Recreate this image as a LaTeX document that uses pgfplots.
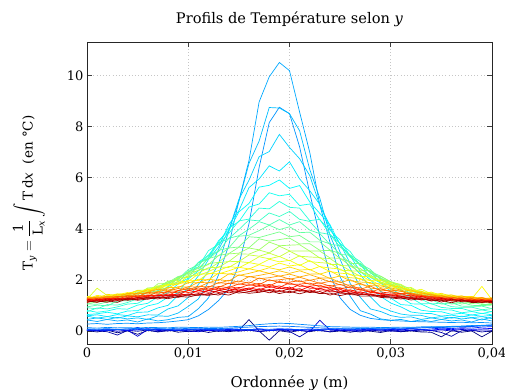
\documentclass[border=0pt]{standalone}
\usepackage{amsmath}
\usepackage{exscale}
\usepackage{fontspec}
\setmainfont{DejaVu Serif}
\usepackage{pgfplots}
\usepackage{pgfplotstable}
\pgfplotsset{compat=1.18}
\newcommand{\fs}{\fontsize{13bp}{16bp}\selectfont}
\newcommand{\fl}{\fontsize{14.8bp}{17bp}\selectfont}
\newcommand{\ft}{\fontsize{14.6bp}{17bp}\selectfont}
\newcommand{\fy}{\fontsize{13.5bp}{16bp}\selectfont}
\definecolor{n1}{rgb}{0,0,0.5}
\definecolor{n2}{rgb}{0,0,0.66}
\definecolor{n3}{rgb}{0,0,0.82}
\definecolor{n4}{rgb}{0,0,0.98}
\definecolor{n5}{rgb}{0,0.14,1}
\definecolor{n6}{rgb}{0,0.3,1}
\definecolor{n7}{rgb}{0,0.46,1}
\definecolor{cB}{rgb}{0,0.54,1}
\definecolor{cN}{rgb}{0,0.58,1}
\definecolor{F1}{rgb}{0,0.66,1}
\definecolor{F2}{rgb}{0,0.74,1}
\definecolor{F3}{rgb}{0,0.82,1}
\definecolor{F4}{rgb}{0,0.9,1}
\definecolor{F5}{rgb}{0,0.98,1}
\definecolor{F6}{rgb}{0.06,1,0.94}
\definecolor{F7}{rgb}{0.14,1,0.86}
\definecolor{F8}{rgb}{0.22,1,0.78}
\definecolor{F9}{rgb}{0.3,1,0.7}
\definecolor{F10}{rgb}{0.38,1,0.62}
\definecolor{F11}{rgb}{0.46,1,0.54}
\definecolor{F12}{rgb}{0.54,1,0.46}
\definecolor{F13}{rgb}{0.62,1,0.38}
\definecolor{F14}{rgb}{0.7,1,0.3}
\definecolor{F15}{rgb}{0.78,1,0.22}
\definecolor{F16}{rgb}{0.86,1,0.14}
\definecolor{F17}{rgb}{0.94,1,0.06}
\definecolor{F18}{rgb}{1,0.98,0}
\definecolor{F19}{rgb}{1,0.88,0}
\definecolor{F20}{rgb}{1,0.78,0}
\definecolor{F21}{rgb}{1,0.68,0}
\definecolor{F22}{rgb}{1,0.58,0}
\definecolor{F23}{rgb}{1,0.48,0}
\definecolor{F24}{rgb}{1,0.38,0}
\definecolor{F25}{rgb}{1,0.28,0}
\definecolor{F26}{rgb}{1,0.18,0}
\definecolor{F27}{rgb}{1,0.08,0}
\definecolor{F28}{rgb}{0.98,0,0}
\definecolor{F29}{rgb}{0.88,0,0}
\definecolor{F30}{rgb}{0.78,0,0}
\definecolor{F31}{rgb}{0.68,0,0}
\definecolor{F32}{rgb}{0.58,0,0}

\pgfplotstableread{
x n1 n2 n3 n4 n5 n6 n7 B N F1 F2 F3 F4 F5 F6 F7 F8 F9 F10 F11 F12 F13 F14 F15 F16 F17 F18 F19 F20 F21 F22 F23 F24 F25 F26 F27 F28 F29 F30 F31 F32
0.000 0.02 0.04 0.05 0.06 0.03 0.07 0.09 0.14 0.28 .44 .46 .59 .60 .65 .81 .76 .92 .95 1.07 1.05 1.15 1.14 1.25 1.25 1.25 1.36 1.25 1.34 1.28 1.33 1.23 1.29 1.21 1.27 1.22 1.19 1.25 1.12 1.19 1.14 1.18
0.001 -0.03 0.01 0.02 0.03 0.05 0.05 0.08 0.12 0.30 .38 .52 .51 .64 .68 .74 .91 .87 1.02 1.05 1.16 1.13 1.24 1.21 1.33 1.68 1.31 1.40 1.29 1.35 1.30 1.34 1.25 1.29 1.21 1.27 1.22 1.19 1.25 1.13 1.19 1.14
0.002 0.04 -0.02 0.06 0.05 0.02 0.08 0.10 0.15 0.27 .46 .46 .57 .57 .74 .79 .87 1.04 .99 1.14 1.16 1.27 1.23 1.31 1.30 1.39 1.37 1.35 1.44 1.30 1.37 1.30 1.35 1.25 1.29 1.21 1.29 1.23 1.19 1.26 1.13 1.19
0.003 -0.06 -0.15 0.00 0.08 0.06 0.06 0.07 0.13 0.30 .40 .54 .51 .65 .68 .88 .95 1.02 1.18 1.13 1.26 1.27 1.38 1.31 1.41 1.36 1.46 1.42 1.40 1.45 1.32 1.37 1.32 1.36 1.26 1.30 1.23 1.29 1.23 1.20 1.26 1.13
0.004 0.01 0.03 0.04 0.02 0.04 0.09 0.09 0.14 0.31 .44 .48 .60 .61 .79 .86 1.06 1.12 1.19 1.33 1.27 1.39 1.40 1.46 1.42 1.48 1.44 1.51 1.47 1.42 1.48 1.33 1.40 1.33 1.37 1.27 1.31 1.23 1.29 1.24 1.21 1.27
0.005 -0.12 0.00 -0.20 0.06 0.15 0.05 0.11 0.12 0.29 .36 .52 .56 .74 .80 1.02 1.09 1.27 1.33 1.36 1.50 1.42 1.54 1.48 1.60 1.47 1.58 1.47 1.59 1.49 1.45 1.49 1.35 1.41 1.34 1.38 1.28 1.32 1.24 1.31 1.25 1.21
0.006 0.03 0.05 0.07 0.10 0.03 0.07 0.08 0.15 0.32 .48 .46 .64 .75 .99 1.09 1.30 1.34 1.51 1.52 1.54 1.69 1.53 1.64 1.61 1.68 1.57 1.63 1.53 1.61 1.52 1.46 1.52 1.37 1.42 1.35 1.40 1.29 1.33 1.25 1.31 1.26
0.007 -0.02 -0.03 0.03 0.04 0.07 0.10 0.10 0.14 0.33 .40 .60 .63 .91 1.08 1.34 1.42 1.59 1.58 1.75 1.72 1.71 1.85 1.64 1.77 1.69 1.77 1.62 1.69 1.55 1.64 1.53 1.48 1.53 1.38 1.43 1.37 1.40 1.30 1.34 1.26 1.32
0.008 0.05 0.02 0.01 0.07 0.05 0.06 0.09 0.13 0.36 .45 .58 .87 1.01 1.33 1.50 1.75 1.72 1.88 1.82 1.95 1.90 1.87 1.95 1.77 1.85 1.78 1.83 1.68 1.71 1.58 1.65 1.56 1.49 1.55 1.39 1.45 1.38 1.41 1.31 1.35 1.27
0.009 -0.04 0.04 0.05 0.03 0.02 0.08 0.12 0.16 0.40 .54 .71 .99 1.40 1.50 1.85 1.93 2.09 2.02 2.12 2.03 2.14 2.06 1.98 2.08 1.85 1.95 1.83 1.89 1.70 1.74 1.59 1.67 1.57 1.50 1.59 1.41 1.46 1.38 1.42 1.32 1.36
0.010 0.00 -0.02 0.02 0.06 0.06 0.05 0.10 0.15 0.45 .57 .97 1.32 1.66 2.04 2.07 2.31 2.30 2.41 2.27 2.34 2.21 2.30 2.17 2.10 2.16 1.94 1.99 1.88 1.90 1.72 1.74 1.61 1.68 1.58 1.51 1.60 1.41 1.46 1.40 1.43 1.33
0.011 0.03 0.01 -0.02 0.08 0.04 0.09 0.09 0.14 0.60 .88 1.26 1.83 2.16 2.36 2.69 2.52 2.68 2.59 2.67 2.45 2.50 2.36 2.39 2.28 2.17 2.24 1.98 2.03 1.89 1.91 1.72 1.76 1.61 1.69 1.58 1.52 1.60 1.41 1.47 1.40 1.43
0.012 -0.05 0.06 0.04 0.02 0.08 0.07 0.11 0.16 0.85 1.30 1.92 2.33 2.80 2.90 2.97 3.15 2.86 2.97 2.81 2.84 2.60 2.64 2.43 2.48 2.33 2.23 2.26 2.00 2.03 1.89 1.90 1.72 1.75 1.61 1.69 1.59 1.52 1.60 1.42 1.47 1.40
0.013 0.02 -0.01 0.06 0.05 0.03 0.06 0.10 0.15 1.20 2.21 2.65 3.20 3.30 3.54 3.48 3.39 3.45 3.11 3.16 2.95 2.96 2.69 2.68 2.50 2.51 2.37 2.24 2.27 1.98 2.02 1.87 1.90 1.71 1.75 1.61 1.68 1.58 1.51 1.60 1.41 1.47
0.014 -0.02 0.03 0.01 0.07 0.05 0.10 0.12 0.17 1.65 3.35 3.91 3.94 4.16 3.92 4.03 3.82 3.62 3.63 3.25 3.25 3.03 3.02 2.72 2.73 2.49 2.53 2.36 2.23 2.24 1.96 1.99 1.86 1.88 1.70 1.74 1.60 1.67 1.57 1.50 1.59 1.41
0.015 0.04 0.00 0.03 0.04 0.07 0.08 0.14 0.19 2.60 5.10 5.07 5.15 4.71 4.66 4.28 4.31 3.97 3.73 3.71 3.29 3.28 3.05 3.02 2.72 2.72 2.48 2.50 2.32 2.18 2.20 1.92 1.96 1.83 1.85 1.68 1.71 1.58 1.65 1.56 1.49 1.55
0.016 0.45 0.04 0.05 0.06 0.04 0.06 0.16 0.22 4.20 6.67 6.56 5.90 5.61 4.99 4.85 4.38 4.35 3.99 3.75 3.69 3.26 3.25 3.01 2.98 2.68 2.68 2.43 2.44 2.26 2.12 2.14 1.87 1.92 1.79 1.82 1.65 1.69 1.55 1.64 1.54 1.48
0.017 0.01 -0.02 0.00 0.09 0.06 0.09 0.18 0.26 6.40 8.96 7.43 6.82 5.95 5.63 4.97 4.81 4.31 4.28 3.93 3.66 3.61 3.18 3.17 2.93 2.91 2.61 2.60 2.36 2.36 2.18 2.05 2.08 1.82 1.87 1.75 1.79 1.62 1.66 1.53 1.61 1.52
0.018 -0.35 0.02 0.04 0.03 0.02 0.07 0.19 0.29 8.15 9.94 8.74 7.02 6.46 5.70 5.41 4.78 4.62 4.15 4.14 3.77 3.52 3.48 3.06 3.05 2.83 2.81 2.51 2.48 2.26 2.26 2.09 1.97 2.01 1.77 1.83 1.71 1.75 1.58 1.63 1.50 1.59
0.019 0.02 0.05 0.07 0.06 0.05 0.10 0.20 0.31 8.75 10.50 8.72 7.69 6.26 5.91 5.29 5.07 4.48 4.36 3.97 3.88 3.58 3.34 3.32 2.91 2.92 2.71 2.66 2.40 2.36 2.15 2.16 2.01 1.90 1.95 1.71 1.77 1.66 1.70 1.54 1.59 1.47
0.020 -0.04 -0.01 0.02 0.08 0.08 0.08 0.19 0.30 8.50 10.18 8.50 7.18 6.62 5.58 5.35 4.84 4.68 4.15 4.08 3.69 3.64 3.36 3.14 3.13 2.75 2.77 2.55 2.51 2.26 2.23 2.03 2.06 1.92 1.83 1.89 1.65 1.72 1.61 1.66 1.50 1.56
0.021 0.03 -0.22 0.03 0.05 0.04 0.06 0.17 0.27 7.20 8.56 7.83 6.74 5.95 5.69 4.91 4.81 4.37 4.28 3.85 3.74 3.41 3.38 3.13 2.93 2.95 2.57 2.60 2.39 2.36 2.12 2.11 1.93 1.97 1.84 1.75 1.82 1.59 1.66 1.56 1.61 1.46
0.022 -0.02 0.03 -0.01 0.04 0.06 0.09 0.15 0.24 5.40 6.99 6.32 6.08 5.49 5.05 4.97 4.32 4.29 3.95 3.87 3.49 3.42 3.13 3.13 2.90 2.72 2.76 2.39 2.41 2.23 2.21 1.99 1.99 1.83 1.88 1.76 1.68 1.75 1.52 1.61 1.51 1.57
0.023 0.05 0.02 0.43 0.07 0.03 0.07 0.13 0.21 3.70 4.92 5.19 4.91 4.95 4.60 4.34 4.37 3.85 3.81 3.55 3.49 3.16 3.13 2.86 2.88 2.68 2.52 2.53 2.23 2.24 2.08 2.07 1.87 1.89 1.73 1.80 1.68 1.61 1.68 1.47 1.55 1.47
0.024 -0.03 -0.02 0.04 0.10 0.07 0.08 0.12 0.18 2.20 3.47 3.75 4.12 3.98 4.16 3.95 3.78 3.78 3.39 3.41 3.17 3.15 2.86 2.84 2.61 2.65 2.47 2.33 2.35 2.06 2.08 1.93 1.95 1.76 1.79 1.65 1.72 1.61 1.54 1.62 1.41 1.49
0.025 0.01 0.04 0.02 0.05 0.05 0.10 0.11 0.17 1.30 2.12 2.81 3.08 3.42 3.38 3.56 3.43 3.29 3.35 3.00 3.03 2.84 2.85 2.57 2.60 2.39 2.43 2.27 2.15 2.16 1.90 1.93 1.81 1.83 1.66 1.70 1.56 1.64 1.54 1.48 1.53 1.39
0.026 -0.04 0.01 0.06 0.03 0.09 0.07 0.12 0.16 0.85 1.36 1.86 2.45 2.64 2.94 2.93 3.11 2.98 2.89 2.97 2.64 2.72 2.56 2.55 2.36 2.36 2.20 2.23 2.09 1.97 2.01 1.75 1.81 1.69 1.73 1.57 1.62 1.49 1.57 1.48 1.43 1.48
0.027 0.02 -0.03 0.01 0.06 0.04 0.09 0.10 0.15 0.62 .80 1.32 1.74 2.22 2.33 2.61 2.56 2.72 2.63 2.55 2.65 2.38 2.45 2.30 2.34 2.14 2.18 2.01 2.06 1.92 1.82 1.87 1.64 1.70 1.60 1.64 1.49 1.54 1.43 1.49 1.42 1.37
0.028 0.00 0.05 0.03 0.08 0.06 0.11 0.12 0.16 0.50 .67 .87 1.34 1.66 2.01 2.10 2.31 2.27 2.41 2.33 2.28 2.36 2.15 2.20 2.10 2.13 1.97 1.99 1.85 1.90 1.78 1.68 1.76 1.53 1.61 1.51 1.57 1.43 1.46 1.38 1.43 1.37
0.029 -0.05 0.00 0.05 0.04 0.08 0.08 0.11 0.14 0.45 .48 .77 .95 1.36 1.56 1.88 1.90 2.06 2.02 2.15 2.09 2.05 2.15 1.92 2.02 1.91 1.98 1.80 1.86 1.70 1.77 1.65 1.58 1.66 1.44 1.53 1.45 1.48 1.36 1.40 1.32 1.38
0.030 0.03 0.02 0.00 0.07 0.05 0.10 0.13 0.15 0.42 .43 .61 .79 1.10 1.29 1.56 1.66 1.83 1.81 1.92 1.86 1.94 1.93 1.82 1.91 1.79 1.86 1.74 1.78 1.65 1.69 1.56 1.60 1.54 1.45 1.49 1.41 1.42 1.34 1.38 1.30 1.33
0.031 -0.02 -0.02 0.04 0.05 0.07 0.12 0.12 0.16 0.40 .46 .54 .67 .95 1.04 1.32 1.44 1.62 1.58 1.72 1.66 1.80 1.76 1.70 1.83 1.63 1.74 1.65 1.72 1.55 1.61 1.47 1.57 1.47 1.42 1.47 1.33 1.38 1.32 1.36 1.26 1.30
0.032 0.01 0.04 0.02 0.09 0.10 0.10 0.14 0.15 0.38 .38 .56 .62 .75 1.01 1.07 1.30 1.36 1.51 1.46 1.60 1.54 1.68 1.61 1.61 1.71 1.54 1.63 1.56 1.61 1.46 1.50 1.42 1.47 1.40 1.35 1.42 1.27 1.33 1.27 1.31 1.22
0.033 -0.03 0.01 0.06 0.06 0.06 0.13 0.13 0.17 0.37 .44 .46 .62 .70 .82 1.06 1.07 1.25 1.31 1.42 1.40 1.50 1.45 1.57 1.54 1.50 1.64 1.44 1.56 1.47 1.51 1.39 1.43 1.35 1.40 1.34 1.30 1.36 1.22 1.29 1.23 1.27
0.034 -0.04 0.03 0.03 0.04 0.09 0.15 0.15 0.18 0.36 .38 .52 .52 .69 .77 .88 1.08 1.06 1.23 1.25 1.37 1.33 1.44 1.38 1.50 1.46 1.46 1.53 1.41 1.46 1.40 1.43 1.34 1.37 1.29 1.35 1.29 1.25 1.31 1.18 1.25 1.19
0.035 -0.22 -0.05 0.05 0.08 0.12 0.14 0.17 0.17 0.35 .46 .46 .57 .59 .76 .84 .93 1.10 1.06 1.21 1.22 1.33 1.30 1.37 1.35 1.44 1.42 1.40 1.48 1.33 1.40 1.33 1.38 1.28 1.32 1.24 1.31 1.25 1.21 1.28 1.14 1.21
0.036 0.02 -0.20 0.01 0.06 0.10 0.17 0.16 0.19 0.34 .40 .54 .51 .63 .66 .83 .89 .96 1.11 1.06 1.20 1.21 1.31 1.25 1.36 1.31 1.41 1.37 1.36 1.42 1.29 1.34 1.29 1.33 1.23 1.27 1.21 1.27 1.21 1.18 1.25 1.11
0.037 -0.04 0.02 0.07 0.10 0.14 0.19 0.19 0.20 0.35 .44 .48 .59 .56 .70 .72 .89 .93 .98 1.13 1.06 1.19 1.20 1.29 1.25 1.33 1.29 1.38 1.35 1.31 1.38 1.24 1.31 1.25 1.29 1.19 1.24 1.17 1.23 1.19 1.15 1.22
0.038 0.01 0.04 0.03 0.07 0.12 0.18 0.21 0.22 0.33 .36 .52 .53 .64 .63 .77 .78 .94 .97 1.01 1.15 1.07 1.20 1.19 1.29 1.23 1.32 1.27 1.36 1.30 1.27 1.33 1.21 1.27 1.21 1.26 1.17 1.21 1.14 1.21 1.16 1.12
0.039 -0.22 -0.03 0.05 0.09 0.16 0.21 0.23 0.21 0.34 .48 .44 .57 .58 .70 .69 .83 .84 .98 1.00 1.04 1.16 1.09 1.20 1.21 1.29 1.23 1.75 1.26 1.32 1.27 1.24 1.31 1.17 1.24 1.18 1.23 1.14 1.19 1.12 1.19 1.13
0.040 0.00 0.02 0.04 0.11 0.18 0.23 0.25 0.24 0.32 .40 .56 .49 .62 .64 .77 .76 .88 .88 1.02 1.04 1.06 1.19 1.10 1.22 1.21 1.29 1.23 1.30 1.23 1.30 1.24 1.21 1.28 1.14 1.21 1.16 1.21 1.12 1.17 1.10 1.16
}\datatable

\begin{document}
\begin{tikzpicture}
\begin{axis}[
  name=ax,
  scale only axis, width=405bp, height=302bp,
  xmin=0, xmax=0.04, ymin=-0.5, ymax=11.3,
  scaled x ticks=false,
  xtick={0,0.01,0.02,0.03,0.04},
  xticklabels={0,{0,01},{0,02},{0,03},{0,04}},
  ytick={0,2,4,6,8,10},
  tick align=inside,
  major tick length=5bp,
  tick style={black!75, line width=0.6bp},
  grid=major,
  grid style={gray!45, line width=0.6bp, dash pattern=on 0.6bp off 2.6bp},
  axis line style={black!85, line width=0.8bp},
  ticklabel style={font=\fs},
  /pgf/number format/assume math mode=true,
  title={Profils de Température selon \textit{y}},
  title style={font=\ft, at={(axis description cs:0.5,1)}, anchor=base, yshift=13bp},
  xlabel={Ordonnée \textit{y} (m)},
  xlabel style={font=\fl, at={(axis description cs:0.5,0)}, anchor=base, yshift=-43bp},
  ylabel={$\text{T}_{\textit{y}}=\dfrac{\text{1}}{\text{L}_{\textit{x}}}\displaystyle\int\text{T}\,\text{d}\textit{x}$\ \ (en °C)},
  ylabel style={font=\fy, at={([xshift=-58bp]axis description cs:0,0.5)}, anchor=center},
  no markers,
  every axis plot/.append style={line width=0.7bp},
]
\addplot[color=n1] table[x=x,y=n1]{\datatable};
\addplot[color=n2] table[x=x,y=n2]{\datatable};
\addplot[color=n3] table[x=x,y=n3]{\datatable};
\addplot[color=n4] table[x=x,y=n4]{\datatable};
\addplot[color=n5] table[x=x,y=n5]{\datatable};
\addplot[color=n6] table[x=x,y=n6]{\datatable};
\addplot[color=n7] table[x=x,y=n7]{\datatable};
\addplot[color=cB] table[x=x,y=B]{\datatable};
\addplot[color=cN] table[x=x,y=N]{\datatable};
\addplot[color=F1] table[x=x,y=F1]{\datatable};
\addplot[color=F2] table[x=x,y=F2]{\datatable};
\addplot[color=F3] table[x=x,y=F3]{\datatable};
\addplot[color=F4] table[x=x,y=F4]{\datatable};
\addplot[color=F5] table[x=x,y=F5]{\datatable};
\addplot[color=F6] table[x=x,y=F6]{\datatable};
\addplot[color=F7] table[x=x,y=F7]{\datatable};
\addplot[color=F8] table[x=x,y=F8]{\datatable};
\addplot[color=F9] table[x=x,y=F9]{\datatable};
\addplot[color=F10] table[x=x,y=F10]{\datatable};
\addplot[color=F11] table[x=x,y=F11]{\datatable};
\addplot[color=F12] table[x=x,y=F12]{\datatable};
\addplot[color=F13] table[x=x,y=F13]{\datatable};
\addplot[color=F14] table[x=x,y=F14]{\datatable};
\addplot[color=F15] table[x=x,y=F15]{\datatable};
\addplot[color=F16] table[x=x,y=F16]{\datatable};
\addplot[color=F17] table[x=x,y=F17]{\datatable};
\addplot[color=F18] table[x=x,y=F18]{\datatable};
\addplot[color=F19] table[x=x,y=F19]{\datatable};
\addplot[color=F20] table[x=x,y=F20]{\datatable};
\addplot[color=F21] table[x=x,y=F21]{\datatable};
\addplot[color=F22] table[x=x,y=F22]{\datatable};
\addplot[color=F23] table[x=x,y=F23]{\datatable};
\addplot[color=F24] table[x=x,y=F24]{\datatable};
\addplot[color=F25] table[x=x,y=F25]{\datatable};
\addplot[color=F26] table[x=x,y=F26]{\datatable};
\addplot[color=F27] table[x=x,y=F27]{\datatable};
\addplot[color=F28] table[x=x,y=F28]{\datatable};
\addplot[color=F29] table[x=x,y=F29]{\datatable};
\addplot[color=F30] table[x=x,y=F30]{\datatable};
\addplot[color=F31] table[x=x,y=F31]{\datatable};
\addplot[color=F32] table[x=x,y=F32]{\datatable};
\end{axis}
\pgfresetboundingbox
\path[use as bounding box] ([shift={(-87bp,-46bp)}]ax.south west) rectangle ([shift={(418bp,344bp)}]ax.south west);
\end{tikzpicture}
\end{document}
